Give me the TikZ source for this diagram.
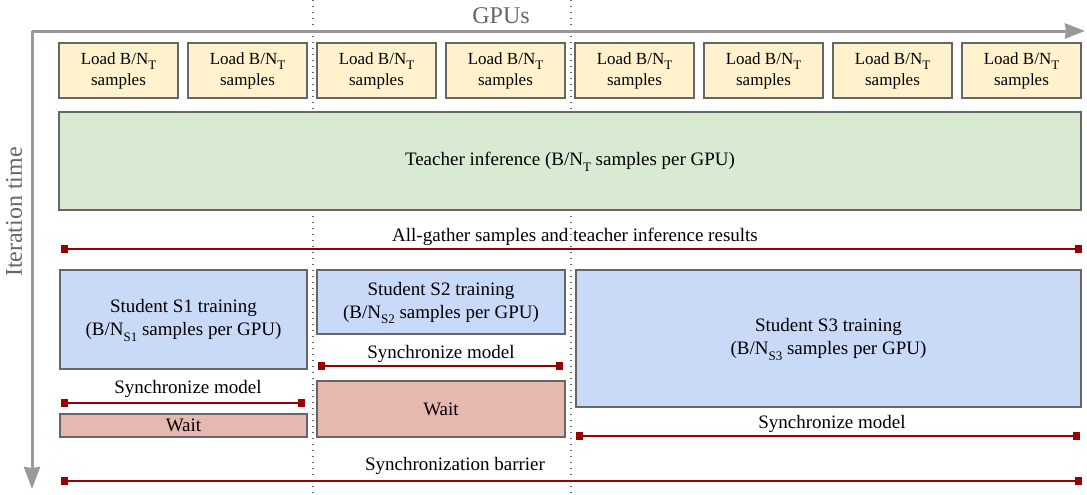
\documentclass[tikz,border=0pt]{standalone}
\usepackage{fontspec}
\setmainfont{Liberation Serif}
\usetikzlibrary{arrows.meta}
\definecolor{loadfill}{HTML}{FFF2CC}
\definecolor{teachfill}{HTML}{D9EAD3}
\definecolor{studfill}{HTML}{C9DAF8}
\definecolor{waitfill}{HTML}{E6B8AF}
\definecolor{boxgray}{HTML}{666666}
\definecolor{axisgray}{HTML}{999999}
\definecolor{syncred}{HTML}{990000}
\newcommand{\lowsub}[1]{\raisebox{-0.65ex}[0pt][0pt]{\fontsize{6.5}{7}\selectfont #1}}
\tikzset{
  box/.style={draw=boxgray, line width=0.6pt, inner sep=0pt, align=center,
    font=\fontsize{9.5}{11.5}\selectfont},
  loadbox/.style={box, fill=loadfill, minimum width=59.5pt, minimum height=27.5pt,
    font=\fontsize{8.5}{10.5}\selectfont},
  studbox/.style={box, fill=studfill},
  waitbox/.style={box, fill=waitfill},
  syncline/.style={draw=syncred, line width=0.9pt,
    {Square[length=3.6pt,width=3.6pt]}-{Square[length=3.6pt,width=3.6pt]}},
  synclabel/.style={inner sep=0pt, font=\fontsize{9.5}{12}\selectfont},
  axislabel/.style={inner sep=0pt, text=boxgray, font=\fontsize{12}{14}\selectfont},
}
\begin{document}
\begin{tikzpicture}[x=0.5pt, y=-0.5pt]
        \useasboundingbox (0,0) rectangle (1087,494);

        % GPU groups
        \draw[boxgray, line width=0.7pt, dash pattern=on 0.7pt off 2.3pt] (313,0) -- (313,494);
        \draw[boxgray, line width=0.7pt, dash pattern=on 0.7pt off 2.3pt] (571,0) -- (571,494);

        % axes
        \coordinate (origin) at (32,31);
        \coordinate (gpuend) at (1085,31);
        \coordinate (timeend) at (32,489);
        \draw[axisgray, line width=1.5pt, -{Stealth[length=10pt,width=7.5pt,inset=0.5pt]}] (origin) -- (gpuend);
        \draw[axisgray, line width=1.5pt, -{Stealth[length=11pt,width=8pt,inset=0.5pt]}] (origin) -- (timeend);
        \node[axislabel] (gpus) at (501,16) {GPUs};
        \node[axislabel, rotate=90] (itertime) at (14,212) {Iteration time};

        % loading
        \foreach \i in {1,...,8}{
            \node[loadbox] (load\i) at ({118.5+129*(\i-1)},70.5) {Load B/N\lowsub{T}\\samples};
        }

        % teacher
        \node[box, fill=teachfill, minimum width=511pt, minimum height=49pt] (teacher) at (570,161)
            {Teacher inference (B/N\lowsub{T} samples per GPU)};

        \coordinate (ag1) at (61,249);
        \coordinate (ag2) at (1082,249);
        \draw[syncline] (ag1) -- (ag2);
        \node[synclabel] (aglabel) at (575,237) {All-gather samples and teacher inference results};

        % students
        \node[studbox, minimum width=123.5pt, minimum height=49.5pt] (s1) at (183.5,319.5)
            {Student S1 training\\(B/N\lowsub{S1} samples per GPU)};
        \node[studbox, minimum width=124pt, minimum height=32pt] (s2) at (441,302)
            {Student S2 training\\(B/N\lowsub{S2} samples per GPU)};
        \node[studbox, minimum width=252.5pt, minimum height=68.5pt] (s3) at (828.5,338.5)
            {Student S3 training\\(B/N\lowsub{S3} samples per GPU)};

        % synchronize
        \coordinate (s1a) at (61,403);
        \coordinate (s1b) at (305,403);
        \draw[syncline] (s1a) -- (s1b);
        \node[synclabel] (s1label) at (188,389) {Synchronize model};

        \coordinate (s2a) at (318,366);
        \coordinate (s2b) at (563,366);
        \draw[syncline] (s2a) -- (s2b);
        \node[synclabel] (s2label) at (441,354) {Synchronize model};

        \coordinate (s3a) at (576,436);
        \coordinate (s3b) at (1080,436);
        \draw[syncline] (s3a) -- (s3b);
        \node[synclabel] (s3label) at (832,424) {Synchronize model};

        % waiting
        \node[waitbox, minimum width=123.5pt, minimum height=11.5pt] (wait1) at (183.5,425.5) {Wait};
        \node[waitbox, minimum width=124pt, minimum height=28pt] (wait2) at (441,409) {Wait};

        % barrier
        \coordinate (bar1) at (61,481);
        \coordinate (bar2) at (1082,481);
        \draw[syncline] (bar1) -- (bar2);
        \node[synclabel] (barlabel) at (455,466) {Synchronization barrier};

    \end{tikzpicture}
\end{document}
